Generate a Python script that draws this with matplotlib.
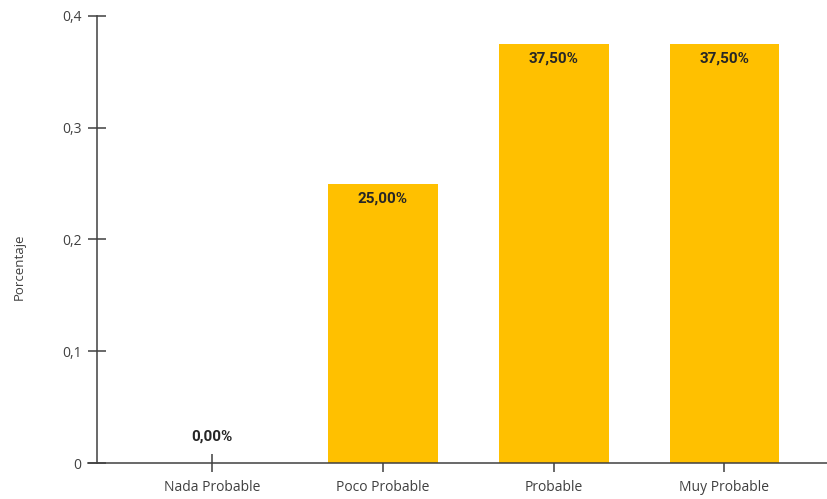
import matplotlib
matplotlib.use("Agg")
import matplotlib.pyplot as plt
from matplotlib.ticker import FuncFormatter

categorias = ["Nada Probable", "Poco Probable", "Probable", "Muy Probable"]
valores = [0.0, 0.25, 0.375, 0.375]
etiquetas = ["0,00%", "25,00%", "37,50%", "37,50%"]
yticks = [0, 0.1, 0.2, 0.3, 0.4]

fig = plt.figure(figsize=(8.27, 4.99), dpi=100)
ax = fig.add_axes([0.1173, 0.0721, 0.8827, 0.8959])

x = list(range(len(categorias)))
barras = ax.bar(x, valores, width=0.643, color="#FFC000", linewidth=0, zorder=2)

for xi, v, lab in zip(x, valores, etiquetas):
    off = -15 if v > 0.02 else 26
    ax.annotate(lab, (xi, v), xytext=(0, off), textcoords="offset pixels",
                ha="center", va="center", fontsize=11, fontweight="bold",
                family="Roboto", color="#262626")

ax.set_xlim(-0.673, 3.6)
ax.set_ylim(0, 0.4)
ax.set_xticks(x)
ax.set_xticklabels(categorias, family="Open Sans", fontsize=10, color="#404040")
ax.set_yticks(yticks)
ax.yaxis.set_major_formatter(FuncFormatter(lambda v, p: ("%g" % round(v, 2)).replace(".", ",")))
for t in ax.get_yticklabels():
    t.set_family("Open Sans")
    t.set_fontsize(10)
    t.set_color("#404040")

ax.tick_params(axis="both", direction="inout", length=12.5, width=1.1,
               color="#404040", pad=5)
ax.tick_params(axis="x", pad=6)

for s in ["top", "right"]:
    ax.spines[s].set_visible(False)
for s in ["left", "bottom"]:
    ax.spines[s].set_color("#404040")
    ax.spines[s].set_linewidth(1.1)
ax.spines["bottom"].set_bounds(-0.725, 3.6)
ax.spines["bottom"].set_clip_on(False)

ax.set_ylabel("Porcentaje", family="Open Sans", fontsize=9.5, color="#404040")
ax.yaxis.set_label_coords(-0.097, 0.44)

fig.savefig("out.png", dpi=100)
